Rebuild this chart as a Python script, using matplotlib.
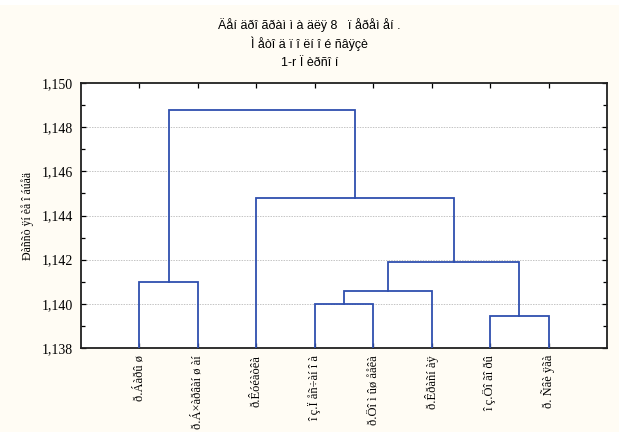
import matplotlib
matplotlib.use("Agg")
import matplotlib.pyplot as plt
from matplotlib.ticker import MultipleLocator, FixedLocator

# ---- data ----
leaf_labels = ["ð.Áàðû ø", "ð.Á×àðâàí ø àí", "ð.Êóéàòêà", "î ç.Ï åñ÷àí î à",
               "ð.Öî ì ûø ååêà", "ð.Êðàñí àÿ", "î ç.Öî ãî ðû", "ð. Ñâè ÿãà"]
# merges: (left id, right id, linkage distance); ids >= 8 are earlier clusters
merge_left = [3, 6, 8, 0, 10, 2, 11]
merge_right = [4, 7, 5, 1, 9, 12, 13]
merge_height = [1.1400, 1.13947, 1.1406, 1.1410, 1.1419, 1.1448, 1.1488]
y_ticks = [1.138, 1.140, 1.142, 1.144, 1.146, 1.148, 1.150]
y_tick_labels = ["1,138", "1,140", "1,142", "1,144", "1,146", "1,148", "1,150"]
title_lines = ["Äåí äðî ãðàì ì à äëÿ 8   ï åðåì åí .",
               "Ì åòî ä ï î ëí î é ñâÿçè",
               "1-r Ï èðñî í"]
y_label = "Ðàññò ÿí èå î áúåä"

# ---- figure ----
bg = "#FFFCF4"
fig = plt.figure(figsize=(6.19, 4.32), dpi=100, facecolor=bg)
ax = fig.add_axes([81/619, 84/432, 526/619, 265/432])
ax.set_facecolor("white")

n = len(leaf_labels)
ybase = y_ticks[0]
pos = {i: (i + 1.0, ybase) for i in range(n)}
line_color = "#2F4FAF"
for k, (a, b, h) in enumerate(zip(merge_left, merge_right, merge_height)):
    xa, ya = pos[a]
    xb, yb = pos[b]
    ax.plot([xa, xa, xb, xb], [ya, h, h, yb], color=line_color, lw=1.3,
            solid_joinstyle="miter", zorder=3)
    pos[n + k] = ((xa + xb) / 2.0, h)

ax.set_xlim(0, n + 1)
ax.set_ylim(y_ticks[0], y_ticks[-1])

# grid at interior major ticks
for yv in y_ticks[1:-1]:
    ax.axhline(yv, color="#C4C4C4", lw=0.7, ls=(0, (1.5, 1.2)), zorder=1)

ax.yaxis.set_major_locator(FixedLocator(y_ticks))
ax.yaxis.set_minor_locator(MultipleLocator(0.001))
ax.set_yticklabels(y_tick_labels, fontfamily="Liberation Serif", fontsize=10)
ax.set_xticks(range(1, n + 1))
ax.set_xticklabels(leaf_labels, rotation=90, fontfamily="Liberation Serif",
                   fontsize=9, va="top", ha="center")
ax.tick_params(axis="both", which="both", direction="in", top=True, right=True,
               color="black", width=0.9)
ax.tick_params(axis="both", which="major", length=3.5)
ax.tick_params(axis="y", which="minor", length=3)
ax.tick_params(axis="y", pad=6)
ax.tick_params(axis="x", pad=5)
for s in ax.spines.values():
    s.set_linewidth(1.3)
    s.set_color("#202020")

ax.set_ylabel(y_label, fontfamily="Liberation Serif", fontsize=8.5, labelpad=5)

for i, t in enumerate(title_lines):
    fig.text(0.5, 1 - (25 + 19 * i) / 432, t, ha="center", va="center",
             fontfamily="Liberation Sans", fontsize=9)

# white strip at top (cropped area)
fig.patches.append(plt.Rectangle((0, 1 - 5/432), 1, 5/432, transform=fig.transFigure,
                                 facecolor="white", edgecolor="none", zorder=0))

fig.savefig("out.png", dpi=100, facecolor=bg)
